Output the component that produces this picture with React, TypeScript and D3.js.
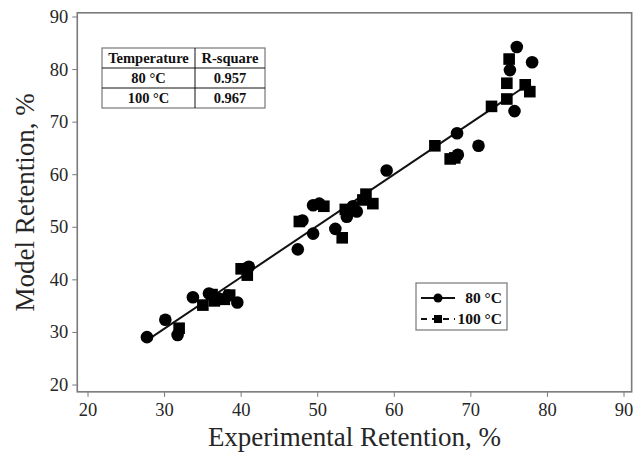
import React from "react";
import * as d3 from "d3";

// 80 °C series (circles)
const c80x = [27.7, 30.1, 31.7, 33.7, 35.8, 37.0, 38.3, 39.5, 41.0, 47.4, 49.4, 48.0, 49.4, 50.2, 52.3, 53.8, 54.6, 55.1, 59.0, 68.2, 68.3, 71.0, 75.7, 75.1, 76.0, 78.0];
const c80y = [29.1, 32.4, 29.5, 36.7, 37.4, 36.5, 37.0, 35.7, 42.5, 45.8, 48.8, 51.3, 54.2, 54.5, 49.7, 52.0, 54.0, 53.0, 60.8, 67.9, 63.8, 65.5, 72.1, 79.9, 84.3, 81.4];

// 100 °C series (squares)
const s100x = [31.9, 35.0, 36.5, 36.2, 37.8, 38.5, 40.0, 40.8, 47.6, 50.8, 53.2, 53.6, 55.9, 56.3, 57.2, 65.3, 67.3, 67.9, 72.7, 74.7, 74.7, 75.0, 77.1, 77.7];
const s100y = [30.8, 35.2, 36.0, 37.2, 36.3, 37.1, 42.1, 40.9, 51.1, 54.0, 48.0, 53.4, 55.2, 56.3, 54.5, 65.5, 63.0, 63.2, 73.0, 74.4, 77.4, 82.0, 77.1, 75.8];

// fitted line
const fitX = [27.5, 77.8];
const fitY = [28.3, 77.5];

const ticks = [20, 30, 40, 50, 60, 70, 80, 90];
const tableHead = ["Temperature", "R-square"];
const tableRows = [["80 °C", "0.957"], ["100 °C", "0.967"]];
const legendLabels = ["80 °C", "100 °C"];

const W = 643;
const H = 452;
const font = "'Liberation Serif', 'Times New Roman', serif";

export default function App() {
  const x = d3.scaleLinear().domain([20, 90]).range([88, 624]);
  const y = d3.scaleLinear().domain([20, 90]).range([385, 17]);
  const fx0 = x(18.6), fx1 = x(91.0);
  const fy0 = y(90.8), fy1 = y(18.7);
  const frameCol = "#7a7a7a";
  const textCol = "#262626";

  const line = d3.line<number>().x((d, i) => x(fitX[i])).y((d, i) => y(fitY[i]));

  // table geometry
  const tx = 102, ty = 48, colW = [93, 70], rowH = 20;
  // legend geometry
  const lx = 416, ly = 283, lw = 91, lh = 47;

  return (
    <svg width={W} height={H} style={{ position: "absolute", left: 0, top: 0, background: "#fff" }} fontFamily={font}>
      <rect x={0} y={0} width={W} height={H} fill="#fff" />
      {/* frame */}
      <rect x={fx0} y={fy0} width={fx1 - fx0} height={fy1 - fy0} fill="none" stroke={frameCol} strokeWidth={1.6} />
      {/* x ticks */}
      {ticks.map((t) => (
        <g key={"xt" + t}>
          <line x1={x(t)} x2={x(t)} y1={fy1} y2={fy1 + 5} stroke={frameCol} strokeWidth={1} />
          <text x={x(t)} y={fy1 + 24} textAnchor="middle" fontSize={18.5} fill={textCol}>{t}</text>
        </g>
      ))}
      {/* y ticks */}
      {ticks.map((t) => (
        <g key={"yt" + t}>
          <line x1={fx0 - 5} x2={fx0} y1={y(t)} y2={y(t)} stroke={frameCol} strokeWidth={1} />
          <text x={fx0 - 9} y={y(t) + 6} textAnchor="end" fontSize={18.5} fill={textCol}>{t}</text>
        </g>
      ))}
      <text x={(fx0 + fx1) / 2} y={446} textAnchor="middle" fontSize={27} fill={textCol}>Experimental Retention, %</text>
      <text transform={`translate(34,${(fy0 + fy1) / 2}) rotate(-90)`} textAnchor="middle" fontSize={27} fill={textCol}>Model Retention, %</text>

      {/* fit line */}
      <path d={line(fitX) || ""} stroke="#111" strokeWidth={2} fill="none" />

      {/* points */}
      {c80x.map((v, i) => (
        <circle key={"c" + i} cx={x(v)} cy={y(c80y[i])} r={6.3} fill="#000" />
      ))}
      {s100x.map((v, i) => (
        <rect key={"s" + i} x={x(v) - 5.8} y={y(s100y[i]) - 5.8} width={11.6} height={11.6} fill="#000" />
      ))}

      {/* table */}
      <g fontWeight="bold" fontSize={14.5} fill="#111">
        <rect x={tx} y={ty} width={colW[0] + colW[1]} height={rowH * 3} fill="#fff" stroke="#777" strokeWidth={1.2} />
        {[1, 2].map((r) => (
          <line key={"r" + r} x1={tx} x2={tx + colW[0] + colW[1]} y1={ty + rowH * r} y2={ty + rowH * r} stroke="#111" strokeWidth={1} />
        ))}
        <line x1={tx + colW[0]} x2={tx + colW[0]} y1={ty} y2={ty + rowH * 3} stroke="#111" strokeWidth={1} />
        {[tableHead, ...tableRows].map((row, r) =>
          row.map((cell, c) => (
            <text key={r + "-" + c} x={c === 0 ? tx + colW[0] / 2 : tx + colW[0] + colW[1] / 2} y={ty + rowH * r + 15} textAnchor="middle">{cell}</text>
          ))
        )}
      </g>

      {/* legend */}
      <rect x={lx} y={ly} width={lw} height={lh} fill="#fff" stroke="#777" strokeWidth={1.2} />
      <line x1={lx + 5} x2={lx + 39} y1={ly + 15} y2={ly + 15} stroke="#111" strokeWidth={2} />
      <circle cx={lx + 22} cy={ly + 15} r={4.5} fill="#000" />
      <text x={lx + lw - 5} y={ly + 20} textAnchor="end" fontSize={15.5} fontWeight="bold" fill="#111">{legendLabels[0]}</text>
      <line x1={lx + 5} x2={lx + 39} y1={ly + 36} y2={ly + 36} stroke="#111" strokeWidth={2} strokeDasharray="6,5" />
      <rect x={lx + 18} y={ly + 32} width={8} height={8} fill="#000" />
      <text x={lx + lw - 5} y={ly + 41} textAnchor="end" fontSize={15.5} fontWeight="bold" fill="#111">{legendLabels[1]}</text>
    </svg>
  );
}
